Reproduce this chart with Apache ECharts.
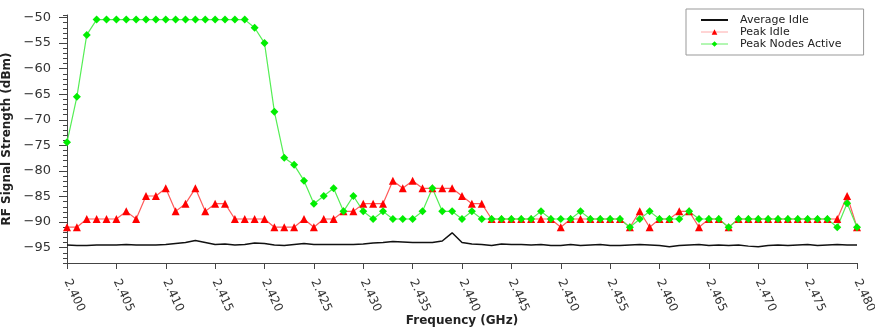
<!DOCTYPE html>
<html>
<head>
<meta charset="utf-8">
<script src="https://cdn.jsdelivr.net/npm/echarts@6/dist/echarts.min.js"></script>
<style>
  html, body { margin: 0; padding: 0; background: #fff; }
  #chart { width: 875px; height: 333px; }
</style>
</head>
<body>
<div id="chart"></div>
<script>
  // frequency grid, 1 MHz steps from 2.400 to 2.480 GHz
  var freqs = [];
  for (var i = 0; i <= 80; i++) {
    freqs.push(+(2.4 + i * 0.001).toFixed(3));
  }

  var yMajorTicks = [-95, -90, -85, -80, -75, -70, -65, -60, -55, -50];

  var averageIdle = [
    -94.5, -94.6, -94.6, -94.5, -94.5, -94.5, -94.4, -94.5, -94.5, -94.5,
    -94.4, -94.2, -94.0, -93.6, -94.0, -94.4, -94.3, -94.5, -94.4, -94.1,
    -94.2, -94.5, -94.6, -94.4, -94.2, -94.4, -94.4, -94.4, -94.4, -94.4,
    -94.3, -94.1, -94.0, -93.8, -93.9, -94.0, -94.0, -94.0, -93.7, -92.1,
    -94.0, -94.3, -94.4, -94.6, -94.3, -94.4, -94.4, -94.5, -94.4, -94.6,
    -94.6, -94.4, -94.6, -94.5, -94.4, -94.6, -94.6, -94.5, -94.4, -94.5,
    -94.6, -94.8, -94.6, -94.5, -94.4, -94.6, -94.5, -94.6, -94.5, -94.7,
    -94.8, -94.6, -94.5, -94.6, -94.5, -94.4, -94.6, -94.5, -94.4, -94.5,
    -94.5
  ];

  var peakIdle = [
    -91.0, -91.0, -89.4, -89.4, -89.4, -89.4, -87.9, -89.4, -84.9, -84.9,
    -83.4, -87.9, -86.4, -83.4, -87.9, -86.4, -86.4, -89.4, -89.4, -89.4,
    -89.4, -91.0, -91.0, -91.0, -89.4, -91.0, -89.4, -89.4, -87.9, -87.9,
    -86.4, -86.4, -86.4, -81.9, -83.4, -81.9, -83.4, -83.4, -83.4, -83.4,
    -84.9, -86.4, -86.4, -89.4, -89.4, -89.4, -89.4, -89.4, -89.4, -89.4,
    -91.0, -89.4, -89.4, -89.4, -89.4, -89.4, -89.4, -91.0, -87.9, -91.0,
    -89.4, -89.4, -87.9, -87.9, -91.0, -89.4, -89.4, -91.0, -89.4, -89.4,
    -89.4, -89.4, -89.4, -89.4, -89.4, -89.4, -89.4, -89.4, -89.4, -84.9,
    -91.0
  ];

  var peakNodesActive = [
    -74.4, -65.5, -53.4, -50.4, -50.4, -50.4, -50.4, -50.4, -50.4, -50.4,
    -50.4, -50.4, -50.4, -50.4, -50.4, -50.4, -50.4, -50.4, -50.4, -52.0,
    -55.0, -68.4, -77.4, -78.8, -81.9, -86.4, -84.9, -83.4, -87.9, -84.9,
    -87.9, -89.4, -87.9, -89.4, -89.4, -89.4, -87.9, -83.4, -87.9, -87.9,
    -89.4, -87.9, -89.4, -89.4, -89.4, -89.4, -89.4, -89.4, -87.9, -89.4,
    -89.4, -89.4, -87.9, -89.4, -89.4, -89.4, -89.4, -91.0, -89.4, -87.9,
    -89.4, -89.4, -89.4, -87.9, -89.4, -89.4, -89.4, -91.0, -89.4, -89.4,
    -89.4, -89.4, -89.4, -89.4, -89.4, -89.4, -89.4, -89.4, -91.0, -86.3,
    -91.0
  ];

  function pairs(values) {
    return values.map(function (v, i) { return [freqs[i], v]; });
  }

  var fontFamily = 'DejaVu Sans';
  var axisColor = '#444';

  var myChart = echarts.init(document.getElementById('chart'));
  var option = {
    animation: false,
    grid: { left: 67, right: 18, top: 15, bottom: 70, containLabel: false, outerBoundsMode: 'none' },
    legend: {
      orient: 'vertical',
      left: 686,
      top: 9,
      padding: [5, 22, 5, 14],
      itemWidth: 27,
      itemHeight: 7,
      itemGap: 0,
      borderColor: '#999',
      borderWidth: 1,
      backgroundColor: '#fff',
      textStyle: { fontFamily: fontFamily, fontSize: 11, color: '#222', lineHeight: 12, padding: [0, 0, 0, 7] },
      data: [
        { name: 'Average Idle', itemStyle: { opacity: 0 } },
        { name: 'Peak Idle', lineStyle: { color: '#ffaaaa', width: 1 } },
        { name: 'Peak Nodes Active', lineStyle: { color: '#66ee66', width: 1 } }
      ]
    },
    xAxis: {
      type: 'value',
      min: 2.4,
      max: 2.48,
      interval: 0.005,
      name: 'Frequency (GHz)',
      nameLocation: 'middle',
      nameGap: 52,
      nameMoveOverlap: false,
      nameTextStyle: { fontFamily: fontFamily, fontSize: 12, fontWeight: 'bold', color: '#222' },
      axisLine: { lineStyle: { color: axisColor } },
      axisTick: { length: 6, lineStyle: { color: axisColor } },
      splitLine: { show: false },
      axisLabel: {
        rotate: -65,
        margin: 17,
        fontFamily: fontFamily,
        fontSize: 12,
        color: '#333',
        formatter: function (v) { return v.toFixed(3); }
      }
    },
    yAxis: [
      {
        type: 'value',
        min: -98,
        max: -49.5,
        interval: 1,
        name: 'RF Signal Strength (dBm)',
        nameLocation: 'middle',
        nameGap: 50,
        nameTextStyle: { fontFamily: fontFamily, fontSize: 12, fontWeight: 'bold', color: '#222' },
        axisLine: { show: true, lineStyle: { color: axisColor } },
        axisTick: { show: true, length: 4, lineStyle: { color: axisColor } },
        splitLine: { show: false },
        axisLabel: {
          margin: 16,
          fontFamily: fontFamily,
          fontSize: 13,
          color: '#333',
          customValues: yMajorTicks,
          formatter: function (v) { return String(v).replace('-', '\u2212'); }
        }
      },
      {
        type: 'value',
        min: -98,
        max: -49.5,
        interval: 1,
        position: 'left',
        axisLine: { show: false },
        axisTick: { show: true, length: 8, customValues: yMajorTicks, lineStyle: { color: axisColor } },
        axisLabel: { show: false },
        splitLine: { show: false }
      }
    ],
    series: [
      {
        name: 'Average Idle',
        type: 'line',
        symbol: 'none',
        color: '#111',
        lineStyle: { color: '#111', width: 1.5 },
        data: pairs(averageIdle)
      },
      {
        name: 'Peak Idle',
        type: 'line',
        symbol: 'triangle',
        symbolSize: 8,
        color: '#ff0000',
        itemStyle: { color: '#ff0000' },
        lineStyle: { color: '#ff5a5a', width: 1.2 },
        data: pairs(peakIdle)
      },
      {
        name: 'Peak Nodes Active',
        type: 'line',
        symbol: 'diamond',
        symbolSize: 8,
        color: '#00ee00',
        itemStyle: { color: '#00ee00' },
        lineStyle: { color: '#55ee55', width: 1.2 },
        data: pairs(peakNodesActive)
      }
    ]
  };
  myChart.setOption(option);
</script>
</body>
</html>
